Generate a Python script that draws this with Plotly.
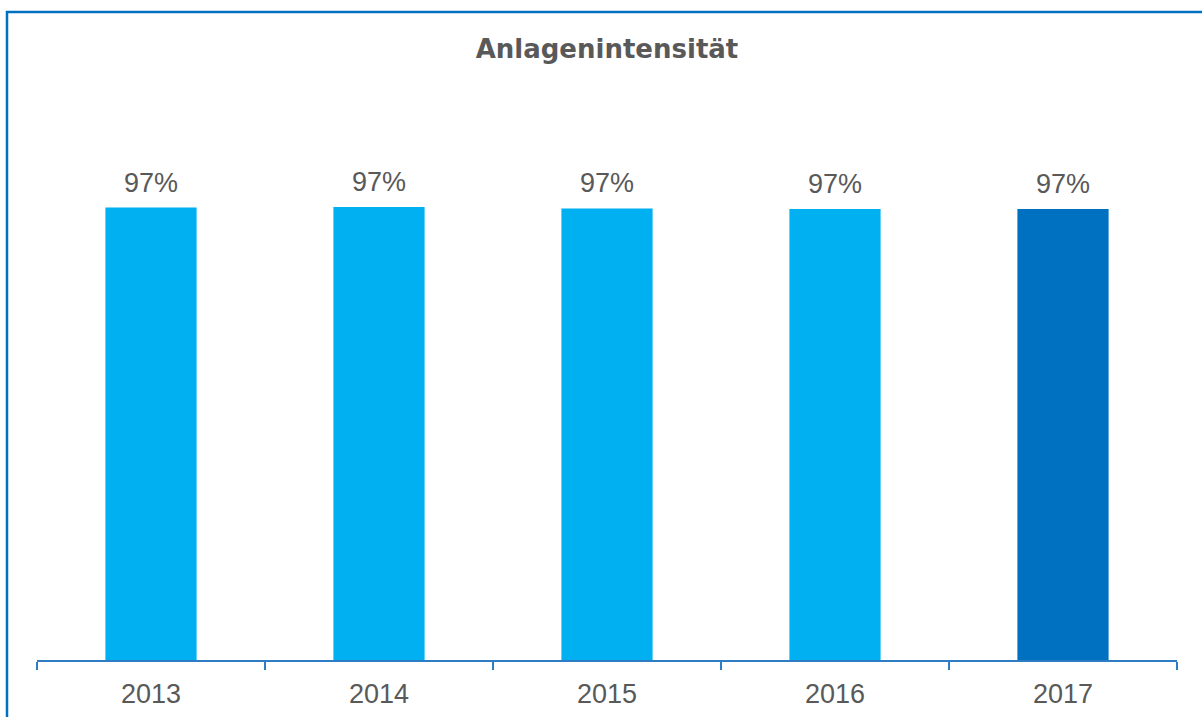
import plotly.graph_objects as go

years = ["2013", "2014", "2015", "2016", "2017"]
values = [97.2, 97.3, 97.0, 96.9, 96.9]
colors = ["#00B0F0", "#00B0F0", "#00B0F0", "#00B0F0", "#0070C0"]
title_text = "Anlagenintensität"

W, H = 1202, 717
L, R, T, B = 37, 25, 60, 57
pw, ph = W - L - R, H - T - B
FONT = "Liberation Sans, Arial, sans-serif"
GREY = "#595959"

fig = go.Figure(go.Bar(
    x=years, y=values,
    marker=dict(color=colors, line=dict(width=0)),
    width=0.4,
    hoverinfo="x+y",
))

# value labels, placed at category index / bar value on the axes
for i, v in enumerate(values):
    fig.add_annotation(x=i, y=v, xref="x", yref="y", text=f"{v:.0f}%",
                       showarrow=False, yanchor="bottom", yshift=8,
                       font=dict(family=FONT, size=27, color=GREY))

# outer frame (page coords -> paper coords)
fig.add_shape(type="rect", xref="paper", yref="paper",
              x0=(7 - L) / pw, x1=(W + 20 - L) / pw,
              y0=(H - B - (H + 20)) / ph, y1=(H - B - 12) / ph,
              line=dict(color="#0070C0", width=2.5), layer="above")

fig.update_layout(
    width=W, height=H,
    margin=dict(l=L, r=R, t=T, b=B, autoexpand=False),
    paper_bgcolor="white", plot_bgcolor="white",
    showlegend=False,
    title=dict(text=f"<b>{title_text}</b>", x=607 / W, xanchor="center", xref="container",
               y=1 - 49 / H, yanchor="middle", yref="container",
               font=dict(family="DejaVu Sans, sans-serif", size=26, color=GREY)),
    xaxis=dict(type="category", categoryorder="array", categoryarray=years,
               range=[-0.5, len(years) - 0.5],
               showline=True, linecolor="#2E7CC4", linewidth=1.8, ticks="outside",
               tickson="boundaries", ticklen=8, tickcolor="#2E7CC4", tickwidth=1.8,
               ticklabelstandoff=9, tickangle=0, automargin=False,
               tickfont=dict(family=FONT, size=27, color=GREY),
               showgrid=False, zeroline=False, fixedrange=True),
    yaxis=dict(range=[0, 128.9], visible=False, showgrid=False, zeroline=False,
               fixedrange=True, automargin=False),
)

fig.write_html("out.html", config={"displayModeBar": False},
               post_script="document.body.style.margin='0';")
